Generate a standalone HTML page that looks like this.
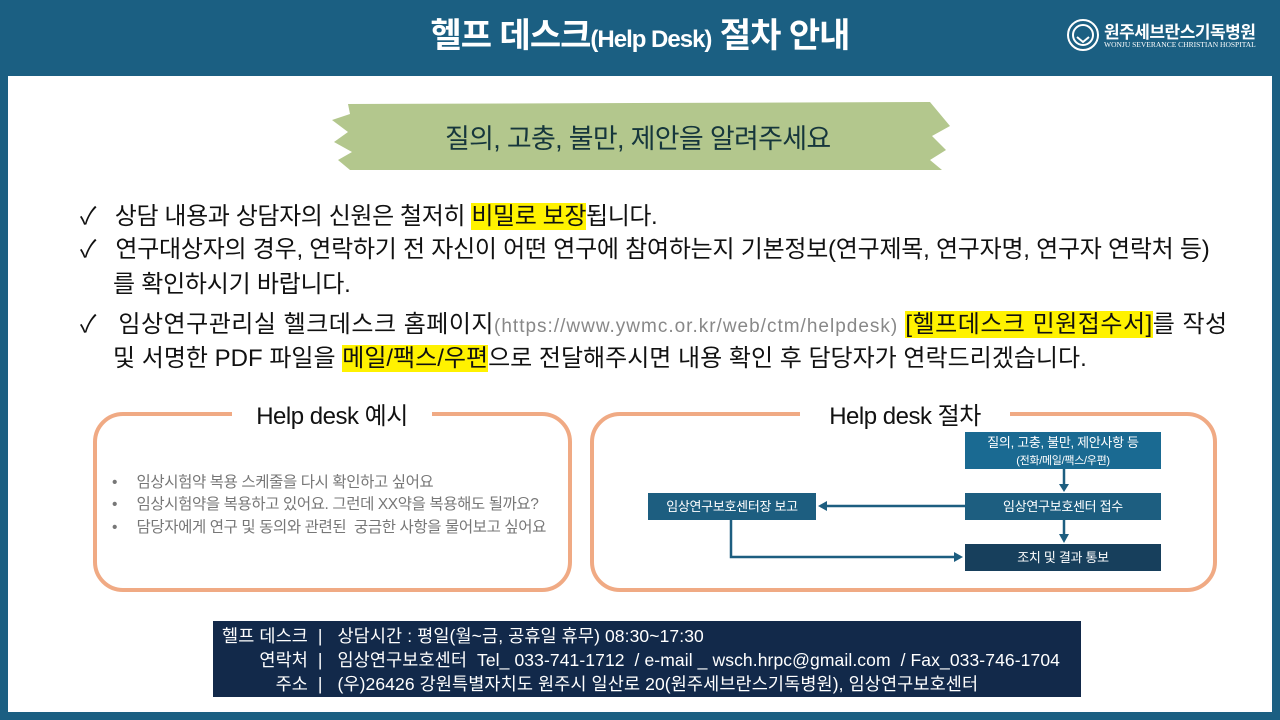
<!DOCTYPE html>
<html><head><meta charset="utf-8">
<style>
*{margin:0;padding:0;box-sizing:border-box}
body{width:1280px;height:720px;overflow:hidden;background:#1b5f82;font-family:"Liberation Sans","Noto Sans CJK KR",sans-serif;position:relative}
.page{position:absolute;left:8px;top:76px;width:1264px;height:636px;background:#fff}
.hdr{position:absolute;left:0;top:0;width:1280px;height:76px;text-align:center;color:#fff;font-weight:bold;font-size:34px;line-height:72px;letter-spacing:-1px}
.hdr small{font-size:24px}
.logo{position:absolute;left:1066px;top:18px;color:#fff}
.t{position:absolute;white-space:nowrap;font-size:24px;letter-spacing:-0.25px;color:#111}
.hl{background:#fff200}
.url{font-size:19px;color:#888;letter-spacing:0.6px}
.box{position:absolute;border:4px solid #f0aa84;border-radius:30px;background:#fff}
.ttl{position:absolute;background:#fff;font-size:24px;color:#111;text-align:center;white-space:nowrap;letter-spacing:-0.5px}
.fb{position:absolute;background:#1a6a92;color:#fff;font-size:13px;text-align:center;letter-spacing:-0.3px}
.li{position:absolute;font-size:15.5px;color:#777;white-space:nowrap;letter-spacing:-0.4px}
.foot{position:absolute;left:213px;top:621px;width:868px;height:76px;background:#12294a;color:#fff;font-size:17.5px;line-height:24px;padding-top:3px;white-space:nowrap;letter-spacing:0.1px}
.foot div span.l{display:inline-block;width:95px;text-align:right}
</style></head><body>
<div class="page"></div>
<div class="hdr">헬프 데스크<small>(Help Desk)</small> 절차 안내</div>
<div class="logo">
<svg width="34" height="34" style="position:absolute;left:0;top:0"><circle cx="17" cy="17" r="15" fill="none" stroke="#fff" stroke-width="2"/><circle cx="17" cy="17" r="10" fill="none" stroke="#fff" stroke-width="2"/><path d="M11 19 L17 24 L23 19" stroke="#fff" stroke-width="2" fill="none"/></svg>
<div style="position:absolute;left:38px;top:0;font-size:17px;font-weight:bold;white-space:nowrap;letter-spacing:-0.5px">원주세브란스기독병원</div>
<div style="position:absolute;left:38px;top:22px;font-size:7.5px;font-family:'Liberation Serif',serif;white-space:nowrap">WONJU SEVERANCE CHRISTIAN HOSPITAL</div>
</div>

<svg style="position:absolute;left:330px;top:98px" width="625" height="76">
<path d="M18 6 L600 4 L620 28 L602 38 L616 52 L600 62 L612 72 L20 72 L8 62 L22 54 L4 44 L18 34 L2 22 L20 16 Z" fill="#b3c78d"/>
</svg>
<div class="t" style="left:445px;top:117px;font-size:27px;color:#16363c;letter-spacing:-0.7px">질의, 고충, 불만, 제안을 알려주세요</div>

<div class="t" style="left:80px;top:196px;letter-spacing:-0.4px">✓&nbsp;&nbsp; 상담 내용과 상담자의 신원은 철저히 <span class="hl">비밀로 보장</span>됩니다.</div>
<div class="t" style="left:80px;top:229px">✓&nbsp;&nbsp; 연구대상자의 경우, 연락하기 전 자신이 어떤 연구에 참여하는지 기본정보(연구제목, 연구자명, 연구자 연락처 등)</div>
<div class="t" style="left:113px;top:264px">를 확인하시기 바랍니다.</div>
<div class="t" style="left:80px;top:304px;letter-spacing:0.5px">✓&nbsp;&nbsp; 임상연구관리실 헬크데스크 홈페이지<span class="url" style="letter-spacing:1px">(https://www.ywmc.or.kr/web/ctm/helpdesk)</span> <span class="hl">[헬프데스크 민원접수서]</span>를 작성</div>
<div class="t" style="left:113px;top:338px;letter-spacing:0px">및 서명한 PDF 파일을 <span class="hl">메일/팩스/우편</span>으로 전달해주시면 내용 확인 후 담당자가 연락드리겠습니다.</div>

<div class="box" style="left:93px;top:412px;width:479px;height:180px"></div>
<div class="ttl" style="left:232px;top:396px;width:200px">Help desk 예시</div>
<div class="li" style="left:112px;top:470px">•&nbsp;&nbsp;&nbsp;&nbsp; 임상시험약 복용 스케줄을 다시 확인하고 싶어요</div>
<div class="li" style="left:112px;top:492px">•&nbsp;&nbsp;&nbsp;&nbsp; 임상시험약을 복용하고 있어요. 그런데 XX약을 복용해도 될까요?</div>
<div class="li" style="left:112px;top:515px">•&nbsp;&nbsp;&nbsp;&nbsp; 담당자에게 연구 및 동의와 관련된&nbsp; 궁금한 사항을 물어보고 싶어요</div>

<div class="box" style="left:590px;top:412px;width:627px;height:180px"></div>
<div class="ttl" style="left:800px;top:396px;width:210px">Help desk 절차</div>
<div class="fb" style="left:965px;top:432px;width:196px;height:37px;line-height:17px;padding-top:2px">질의, 고충, 불만, 제안사항 등<br><span style="font-size:11px">(전화/메일/팩스/우편)</span></div>
<div class="fb" style="left:965px;top:493px;width:196px;height:27px;line-height:27px;background:#1d5e80">임상연구보호센터 접수</div>
<div class="fb" style="left:648px;top:493px;width:168px;height:27px;line-height:27px;background:#1d5e80">임상연구보호센터장 보고</div>
<div class="fb" style="left:965px;top:544px;width:196px;height:27px;line-height:27px;background:#173f5c">조치 및 결과 통보</div>
<svg style="position:absolute;left:0;top:0" width="1280" height="720">
<g stroke="#1d5e80" stroke-width="2.5" fill="#1d5e80">
<line x1="1064" y1="469" x2="1064" y2="485"/><path d="M1059 484 L1069 484 L1064 492 Z" stroke="none"/>
<line x1="1064" y1="520" x2="1064" y2="535"/><path d="M1059 534 L1069 534 L1064 543 Z" stroke="none"/>
<line x1="965" y1="506" x2="826" y2="506"/><path d="M827 501 L827 511 L818 506 Z" stroke="none"/>
<polyline points="731,520 731,557 955,557" fill="none"/><path d="M954 552 L954 562 L963 557 Z" stroke="none"/>
</g></svg>

<div class="foot">
<div><span class="l">헬프 데스크</span> &nbsp;|&nbsp;&nbsp; 상담시간 : 평일(월~금, 공휴일 휴무) 08:30~17:30</div>
<div><span class="l">연락처</span> &nbsp;|&nbsp;&nbsp; 임상연구보호센터&nbsp; Tel_ 033-741-1712&nbsp; / e-mail _ wsch.hrpc@gmail.com&nbsp; / Fax_033-746-1704</div>
<div><span class="l">주소</span> &nbsp;|&nbsp;&nbsp; (우)26426 강원특별자치도 원주시 일산로 20(원주세브란스기독병원), 임상연구보호센터</div>
</div>
</body></html>
